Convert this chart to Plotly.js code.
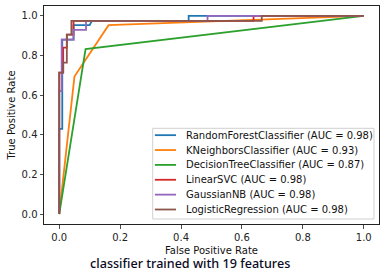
<!DOCTYPE html>
<html>
<head>
<meta charset="utf-8">
<script src="https://cdn.plot.ly/plotly-3.0.1.min.js"></script>
<style>html,body{margin:0;padding:0;background:#fff;}#chart{width:386px;height:275px;}</style>
</head>
<body>
<div id="chart"></div>
<script>
// ---- data ----
const names = ["RandomForestClassifier", "KNeighborsClassifier", "DecisionTreeClassifier", "LinearSVC", "GaussianNB", "LogisticRegression"];
const aucs = [0.98, 0.93, 0.87, 0.98, 0.98, 0.98];
const colors = ["#1f77b4", "#ff7f0e", "#2ca02c", "#d62728", "#9467bd", "#8c564b"];

const rfFpr = [0, 0, 0.01, 0.01, 0.047, 0.047, 0.1, 0.107, 0.425, 0.425, 1];
const rfTpr = [0, 0.43, 0.43, 0.88, 0.88, 0.953, 0.953, 0.975, 0.975, 1, 1];

const knFpr = [0, 0.05, 0.162, 1];
const knTpr = [0, 0.694, 0.953, 1];

const dtFpr = [0, 0.0865, 1];
const dtTpr = [0, 0.833, 1];

const svcFpr = [0, 0, 0.013, 0.013, 0.025, 0.025, 0.047, 0.047, 0.638, 0.638, 1];
const svcTpr = [0, 0.714, 0.714, 0.84, 0.84, 0.906, 0.906, 0.975, 0.975, 1, 1];

const nbFpr = [0, 0, 0.008, 0.008, 0.047, 0.047, 0.088, 0.088, 0.487, 0.487, 1];
const nbTpr = [0, 0.62, 0.62, 0.88, 0.88, 0.93, 0.93, 0.975, 0.975, 1, 1];

const lrFpr = [0, 0, 0.013, 0.013, 0.025, 0.025, 0.04, 0.04, 0.665, 0.665, 1];
const lrTpr = [0, 0.714, 0.714, 0.764, 0.764, 0.906, 0.906, 0.975, 0.975, 1, 1];

const xTickVals = [0, 0.2, 0.4, 0.6, 0.8, 1.0];
const xTickText = ["0.0", "0.2", "0.4", "0.6", "0.8", "1.0"];
const yTickVals = [0, 0.2, 0.4, 0.6, 0.8, 1.0];
const yTickText = ["0.0", "0.2", "0.4", "0.6", "0.8", "1.0"];

const xs = [rfFpr, knFpr, dtFpr, svcFpr, nbFpr, lrFpr];
const ys = [rfTpr, knTpr, dtTpr, svcTpr, nbTpr, lrTpr];

// ---- chart ----
const labels = names.map((n, i) => n + " (AUC = " + aucs[i].toFixed(2) + ")");
const traces = names.map((n, i) => ({
  type: "scatter", mode: "lines", x: xs[i], y: ys[i], name: labels[i],
  line: {color: colors[i], width: 1.8}, showlegend: false, hoverinfo: "skip"
}));

const font = "DejaVu Sans, sans-serif";
// custom matplotlib-style legend
const lg = {x0: 0.3245, x1: 0.985, y0: 0.023, y1: 0.439, lx0: 0.331, lx1: 0.394, tx: 0.419, top: 0.4075, step: 0.0682};
const shapes = [{
  type: "rect", xref: "paper", yref: "paper", x0: lg.x0, x1: lg.x1, y0: lg.y0, y1: lg.y1,
  line: {color: "#d0d0d0", width: 1}, fillcolor: "rgba(255,255,255,0.8)", layer: "above"
}];
const annotations = [];
labels.forEach((t, i) => {
  const yy = lg.top - i * lg.step;
  shapes.push({type: "line", xref: "paper", yref: "paper", x0: lg.lx0, x1: lg.lx1, y0: yy, y1: yy,
    line: {color: colors[i], width: 1.8}, layer: "above"});
  annotations.push({xref: "paper", yref: "paper", x: lg.tx, y: yy, xanchor: "left", yanchor: "middle",
    text: t, showarrow: false, font: {family: font, size: 10, color: "#111"}});
});

const axisCommon = {
  showline: true, mirror: true, linecolor: "#222", linewidth: 1,
  ticks: "outside", ticklen: 3.5, tickwidth: 0.8, tickcolor: "#222",
  showgrid: false, zeroline: false, range: [-0.05, 1.05],
  tickfont: {family: font, size: 10, color: "#222"}
};

const layout = {
  width: 386, height: 275,
  margin: {l: 44, r: 7, t: 6, b: 51},
  paper_bgcolor: "#fff", plot_bgcolor: "#fff",
  showlegend: false,
  title: {text: "classifier trained with 19 features", xref: "paper", x: 0.4364, xanchor: "center",
    yref: "container", y: 0.04, yanchor: "middle",
    font: {family: "Noto Sans, sans-serif", size: 12.6, color: "#0a0a24", weight: 500}},
  xaxis: Object.assign({}, axisCommon, {tickvals: xTickVals, ticktext: xTickText,
    title: {text: "False Positive Rate", standoff: 5, font: {family: font, size: 10, color: "#111"}}}),
  yaxis: Object.assign({}, axisCommon, {tickvals: yTickVals, ticktext: yTickText,
    title: {text: "True Positive Rate", standoff: 4, font: {family: font, size: 10, color: "#111"}}}),
  shapes: shapes,
  annotations: annotations
};

Plotly.newPlot("chart", traces, layout, {staticPlot: true, displayModeBar: false});
</script>
</body>
</html>
